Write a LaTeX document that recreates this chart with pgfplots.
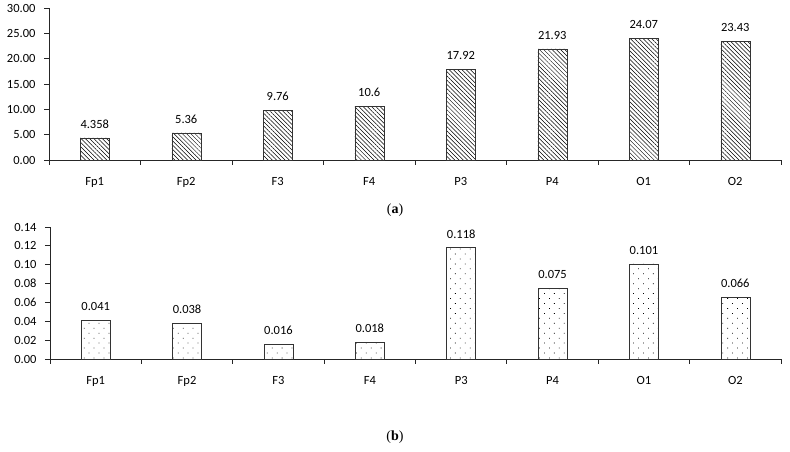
\documentclass[border=0pt]{standalone}
\usepackage{fontspec}
\setmainfont{Carlito}
\newfontfamily\capfont{Liberation Serif}
\usepackage{pgfplots}
\pgfplotsset{compat=1.18}
\usetikzlibrary{patterns.meta}
\begin{document}
\begin{tikzpicture}
\useasboundingbox (0pt,0pt) rectangle (790pt,452pt);
\pgfplotsset{
 mystyle/.style={
  scale only axis, anchor=south west,
  axis x line=bottom, axis y line=left,
  axis line style={-, line width=0.8pt, black!85},
  xmin=0, xmax=8, xtick={0,...,8}, x tick label as interval,
  xticklabels={Fp1,Fp2,F3,F4,P3,P4,O1,O2},
  tick style={black!85, line width=0.8pt},
  tick align=outside, major tick length=5pt,
  ymin=0,
  font=\fontsize{12.5}{14}\selectfont,
  /pgf/number format/assume math mode=true,
  y tick label style={/pgf/number format/fixed, /pgf/number format/fixed zerofill, /pgf/number format/precision=2, xshift=-5pt},
  x tick label style={yshift=-9pt},
  clip=false,
 }
}
\begin{axis}[mystyle, at={(49pt,292pt)}, width=732pt, height=152pt,
  ymax=30, ytick={0,5,10,15,20,25,30}]
\addplot[ybar, bar width=29pt, draw=black!80, line width=0.5pt,
  pattern={Lines[angle=-45,distance=3pt,line width=0.5pt]},
  nodes near coords, point meta=explicit symbolic,
  nodes near coords style={font=\fontsize{12.5}{14}\selectfont, anchor=south, yshift=6pt}]
coordinates {(0.5,4.358)[4.358] (1.5,5.36)[5.36] (2.5,9.76)[9.76] (3.5,10.6)[10.6]
 (4.5,17.92)[17.92] (5.5,21.93)[21.93] (6.5,24.07)[24.07] (7.5,23.43)[23.43]};
\end{axis}
\begin{axis}[mystyle, at={(50pt,93pt)}, width=731pt, height=132pt,
  ymax=0.14, ytick={0,0.02,0.04,0.06,0.08,0.10,0.12,0.14}]
\addplot[ybar, bar width=29pt, draw=black!80, line width=0.5pt,
  pattern={Dots[distance=7pt,radius=0.55pt,angle=45]},
  nodes near coords, point meta=explicit symbolic,
  nodes near coords style={font=\fontsize{12.5}{14}\selectfont, anchor=south, yshift=6pt}]
coordinates {(0.5,0.041)[0.041] (1.5,0.038)[0.038] (2.5,0.016)[0.016] (3.5,0.018)[0.018]
 (4.5,0.118)[0.118] (5.5,0.075)[0.075] (6.5,0.101)[0.101] (7.5,0.066)[0.066]};
\end{axis}
\node[font=\capfont\fontsize{14}{16}\selectfont] at (395pt,242pt) {(\textbf{a})};
\node[font=\capfont\fontsize{14}{16}\selectfont] at (395pt,15pt) {(\textbf{b})};
\end{tikzpicture}
\end{document}
